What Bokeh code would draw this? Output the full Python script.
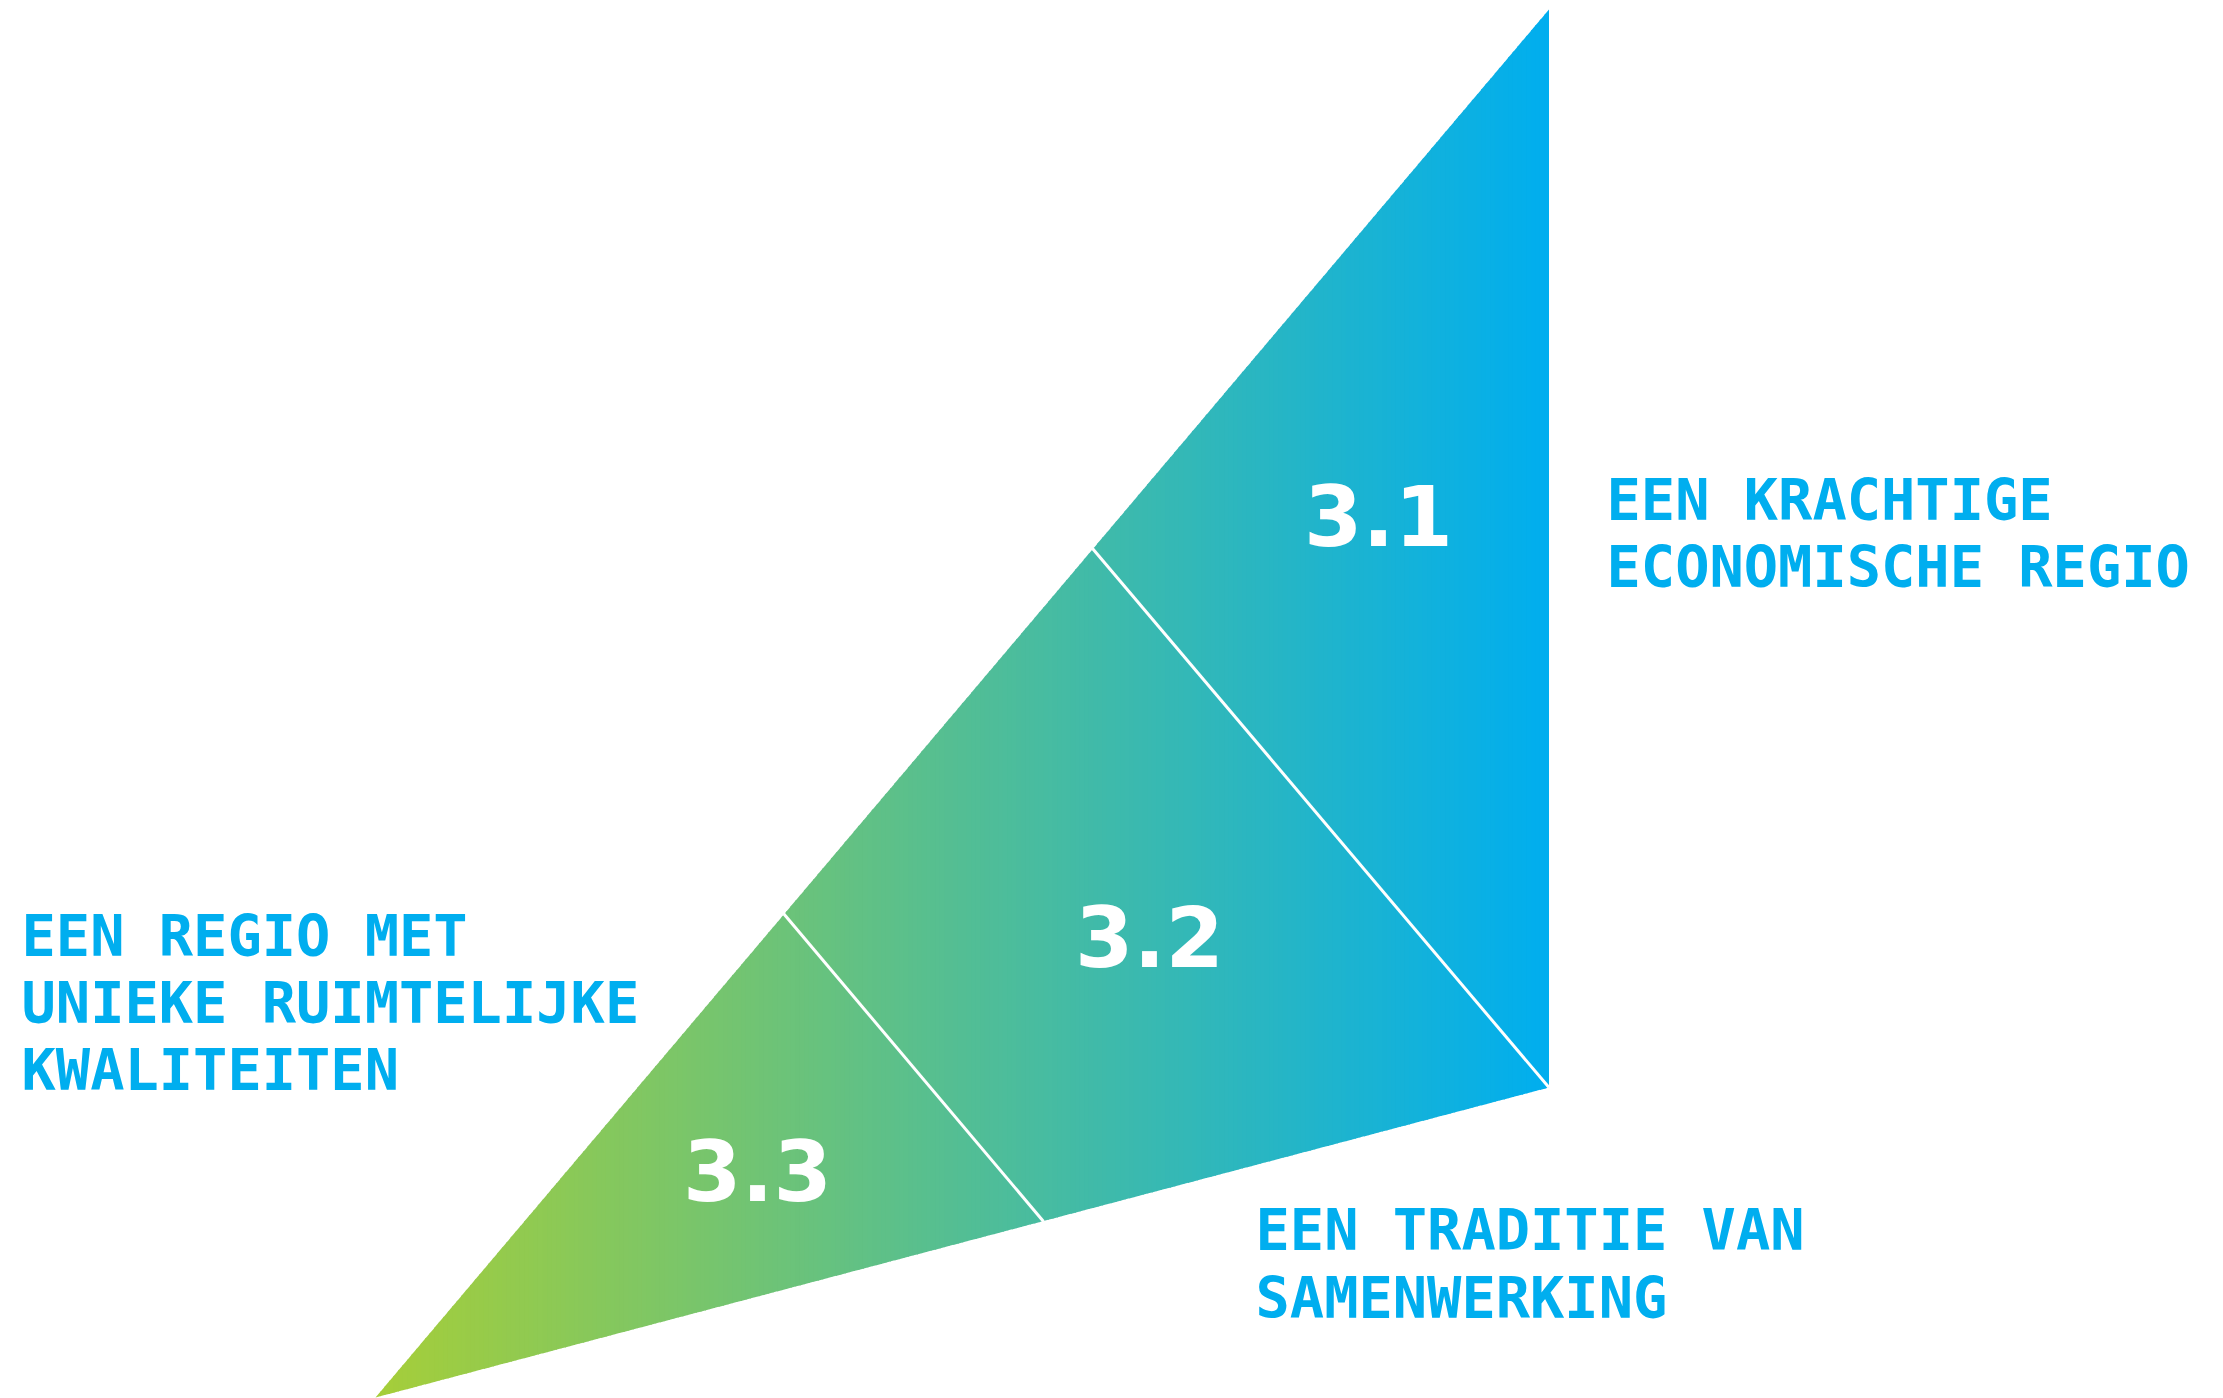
import numpy as np
from bokeh.plotting import figure
from bokeh.models import Range1d
from bokeh.core.properties import value
from bokeh.embed import file_html
from bokeh.resources import INLINE

# ---- data (page pixel coordinates, y pointing down) ----
tri_x = [375, 1548.5, 1548.5]      # bottom-left apex, top apex, right corner
tri_y = [1397, 9, 1087]

div_x0 = [1092, 783]
div_y0 = [548, 913]
div_x1 = [1548.5, 1043]
div_y1 = [1087, 1221]

sections = ["3.1", "3.2", "3.3"]
section_x = [1378, 1149, 757]
section_y = [541, 962, 1196]          # baseline of the digits

label_lines = ["EEN KRACHTIGE", "ECONOMISCHE REGIO",
               "EEN TRADITIE VAN", "SAMENWERKING",
               "EEN REGIO MET", "UNIEKE RUIMTELIJKE", "KWALITEITEN"]
label_x = [1606, 1606, 1255, 1255, 21, 21, 21]
label_y = [517, 584, 1247, 1315, 953, 1020, 1087]   # baseline of each line

grad_start = (166, 206, 57)   # yellow-green
grad_end = (0, 174, 239)      # cyan blue
TEXT_BLUE = "#00aeef"
NUM_SIZE = 84
LABEL_SIZE = 57

W, H = 2223, 1398

# ---- figure ----
p = figure(width=W, height=H, x_range=Range1d(0, W), y_range=Range1d(H, 0),
           output_backend="svg", toolbar_location=None,
           x_axis_location=None, y_axis_location=None, min_border=0)
p.outline_line_color = None
p.grid.visible = False
p.background_fill_color = "white"
p.border_fill_color = "white"

xa, ya = tri_x[0], tri_y[0]
xb, yb = tri_x[1], tri_y[1]
xc, yc = tri_x[2], tri_y[2]


def y_on(x, x0, y0, x1, y1):
    return y0 + (x - x0) * (y1 - y0) / (x1 - x0)


N = 260
edges = np.linspace(xa, xb, N + 1)
xs, ys, cols = [], [], []
for i in range(N):
    x0 = edges[i]
    x1 = min(edges[i + 1] + 1.0, xb)
    t0 = y_on(x0, xa, ya, xb, yb)
    t1 = y_on(x1, xa, ya, xb, yb)
    b0 = y_on(x0, xa, ya, xc, yc)
    b1 = y_on(x1, xa, ya, xc, yc)
    xs.append([x0, x1, x1, x0])
    ys.append([t0, t1, b1, b0])
    t = ((edges[i] + edges[i + 1]) / 2 - xa) / (xb - xa)
    r = int(round(grad_start[0] + (grad_end[0] - grad_start[0]) * t))
    g = int(round(grad_start[1] + (grad_end[1] - grad_start[1]) * t))
    b = int(round(grad_start[2] + (grad_end[2] - grad_start[2]) * t))
    cols.append("#%02x%02x%02x" % (r, g, b))

p.patches(xs=xs, ys=ys, fill_color=cols, line_color=None)

p.segment(x0=div_x0, y0=div_y0, x1=div_x1, y1=div_y1, line_color="white", line_width=3)

# the rendered alphabetic baseline sits ~0.3 em below the anchor, compensate
num_y = [v - 0.32 * NUM_SIZE for v in section_y]
lab_y = [v - 0.30 * LABEL_SIZE for v in label_y]

p.text(x=section_x, y=num_y, text=sections,
       text_font=value("DejaVu Sans"), text_font_style="bold", text_font_size=f"{NUM_SIZE}px",
       text_color="white", text_align="center", text_baseline="alphabetic")

p.text(x=label_x, y=lab_y, text=label_lines,
       text_font=value("DejaVu Sans Mono"), text_font_style="bold", text_font_size=f"{LABEL_SIZE}px",
       text_color=TEXT_BLUE, text_align="left", text_baseline="alphabetic")

open("out.html", "w").write(file_html(p, INLINE))
